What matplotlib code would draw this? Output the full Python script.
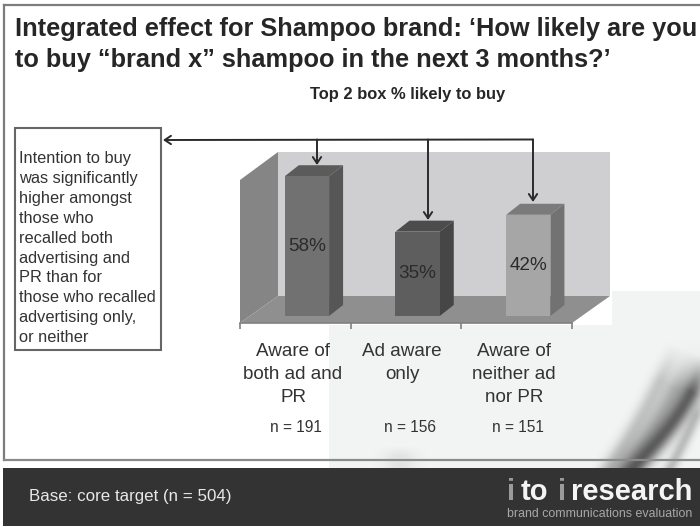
import matplotlib
matplotlib.use("Agg")
import matplotlib.pyplot as plt
import numpy as np
from matplotlib.patches import Polygon, Rectangle

# ---- data ----
categories = ["Aware of\nboth ad and\nPR", "Ad aware\nonly", "Aware of\nneither ad\nnor PR"]
top2_box = [58, 35, 42]
sample_sizes = [191, 156, 151]
title_text = "Integrated effect for Shampoo brand: \u2018How likely are you\nto buy \u201cbrand x\u201d shampoo in the next 3 months?\u2019"
subtitle_text = "Top 2 box % likely to buy"
callout_text = ("Intention to buy\nwas significantly\nhigher amongst\nthose who\nrecalled both\n"
                "advertising and\nPR than for\nthose who recalled\nadvertising only,\nor neither")
base_text = "Base: core target (n = 504)"

# ---- styling ----
front_colors = ["#717171", "#5e5e5e", "#a6a6a7"]
side_colors = ["#565656", "#464646", "#727272"]
top_colors = ["#5b5b5b", "#4c4c4c", "#7b7b7b"]
FONT = "Liberation Sans"
INK = "#262626"
W, H = 700, 527

plt.rcParams["font.family"] = FONT
fig = plt.figure(figsize=(W / 100, H / 100), dpi=100, facecolor="white")


def pixel_axes(z):
    """Full-figure axes addressed in image pixels, y pointing down."""
    a = fig.add_axes([0, 0, 1, 1], zorder=z)
    a.set_xlim(0, W)
    a.set_ylim(H, 0)
    a.axis("off")
    a.patch.set_alpha(0)
    return a


bg = pixel_axes(0)
fg = pixel_axes(2)

# Pale slide panel behind the lower right of the chart
bg.add_patch(Polygon([(329, 325), (612, 325), (612, 291), (700, 291), (700, 468), (329, 468)],
                     closed=True, fc="#f2f4f3", ec="none"))

# Soft brush strokes in the corner: each is a Bezier centre line with a Gaussian cross-section
yy, xx = np.mgrid[340:468, 340:700]
xx = xx + 0.5
yy = yy + 0.5
shade = np.zeros_like(xx, dtype=float)


def brush(p0, c1, c2, p1, sigma, strength):
    global shade
    t = np.linspace(0, 1, 160)[:, None]
    pts = ((1 - t) ** 3) * np.array(p0) + 3 * ((1 - t) ** 2) * t * np.array(c1) \
        + 3 * (1 - t) * t ** 2 * np.array(c2) + t ** 3 * np.array(p1)
    d2 = (xx[..., None] - pts[:, 0]) ** 2 + (yy[..., None] - pts[:, 1]) ** 2
    nearest = d2.argmin(axis=-1)
    dist2 = d2.min(axis=-1)
    fade = np.clip((160 - nearest) / 35, 0, 1)
    shade = 1 - (1 - shade) * (1 - strength * np.exp(-dist2 / sigma ** 2) * fade)


brush((606, 472), (628, 440), (650, 405), (676, 345), 8, 0.22)
brush((620, 472), (642, 445), (664, 420), (694, 352), 13, 0.38)
brush((630, 472), (655, 442), (685, 418), (706, 358), 10, 0.80)
brush((668, 472), (680, 450), (690, 430), (706, 395), 6, 0.30)
brush((400, 480), (400, 472), (400, 462), (400, 446), 16, 0.09)

rgba = np.zeros(shade.shape + (4,))
rgba[..., :3] = 0.25
rgba[..., 3] = shade
bg.imshow(rgba, extent=(340, 700, 468, 340), aspect="auto", interpolation="bilinear", zorder=1)
bg.set_xlim(0, W)
bg.set_ylim(H, 0)

# Slide frame and footer band
bg.plot([4, 4], [5, 460], color="#7d7d7d", lw=1.6, zorder=2)
bg.plot([4, 700], [5, 5], color="#7d7d7d", lw=1.6, zorder=2)
bg.plot([4, 700], [460, 460], color="#8a8a8a", lw=1.6, zorder=2)
bg.add_patch(Rectangle((3, 468), 697, 58, fc="#333333", ec="none", zorder=2))

# 3D chart room: back wall, side wall, floor
bg.add_patch(Polygon([(278, 152), (610, 152), (610, 296), (278, 296)], closed=True, fc="#cfcfd1", ec="none", zorder=2))
bg.add_patch(Polygon([(240, 180), (278, 152), (278, 296), (240, 323)], closed=True, fc="#858585", ec="none", zorder=2))
bg.add_patch(Polygon([(240, 323), (278, 296), (610, 296), (572, 323)], closed=True, fc="#8f8f8f", ec="none", zorder=2))

# Value axes: one category per unit, 2.41 px per percentage point, zero 7 px above the baseline
PX_PER_UNIT = 2.41
AX_LEFT, AX_RIGHT, AX_BOTTOM, AX_TOP = 240, 572, 323, 130
ax = fig.add_axes([AX_LEFT / W, 1 - AX_BOTTOM / H, (AX_RIGHT - AX_LEFT) / W, (AX_BOTTOM - AX_TOP) / H], zorder=1)
ax.patch.set_alpha(0)
ax.set_xlim(0, 3)
ax.set_ylim(-(AX_BOTTOM - 316) / PX_PER_UNIT, (316 - AX_TOP) / PX_PER_UNIT)
for s in ["top", "left", "right"]:
    ax.spines[s].set_visible(False)
ax.spines["bottom"].set_color("#808080")
ax.spines["bottom"].set_linewidth(1.2)
ax.set_yticks([])
ax.set_xticks([0, 1, 2, 3])
ax.set_xticklabels([])
ax.tick_params(axis="x", length=4, width=1.2, color="#808080")

centers = [i + 0.605 for i in range(len(top2_box))]
bar_w = 0.40
depth_x = 14 / ((AX_RIGHT - AX_LEFT) / 3)
depth_y = 11 / PX_PER_UNIT
ax.bar(centers, top2_box, width=bar_w, color=front_colors, zorder=3)
for xc, v, sc, tc in zip(centers, top2_box, side_colors, top_colors):
    r = xc + bar_w / 2
    l = xc - bar_w / 2
    ax.add_patch(Polygon([(r, 0), (r + depth_x, depth_y), (r + depth_x, v + depth_y), (r, v)],
                         closed=True, fc=sc, ec="none", zorder=2))
    ax.add_patch(Polygon([(l, v), (l + depth_x, v + depth_y), (r + depth_x, v + depth_y), (r, v)],
                         closed=True, fc=tc, ec="none", zorder=2))
    ax.text(xc, v / 2, f"{v}%", ha="center", va="center", fontsize=13.6, color="#2b2b2b", zorder=4)

# Titles
fg.text(15, 36, title_text.split("\n")[0], fontsize=18.3, fontweight="bold", color=INK, va="baseline")
fg.text(15, 67, title_text.split("\n")[1], fontsize=18.3, fontweight="bold", color=INK, va="baseline")
fg.text(408, 94, subtitle_text, fontsize=11.9, fontweight="bold", color=INK, ha="center", va="center")

# Callout box
fg.add_patch(Rectangle((14.5, 128), 146, 222, fc="white", ec="#666666", lw=1.5))
for i, line in enumerate(callout_text.split("\n")):
    fg.text(19, 163 + i * 19.9, line, fontsize=11.8, color="#333333", va="baseline")

# Connector arrows from the bars to the callout
ARROW = dict(arrowstyle="->,head_length=0.45,head_width=0.3", lw=1.4, color="#2a2a2a", shrinkA=0, shrinkB=0)
fg.annotate("", xy=(163, 140), xytext=(533, 139.5), arrowprops=ARROW)
for x, y in [(317, 165), (428, 220), (533, 202)]:
    fg.annotate("", xy=(x, y), xytext=(x, 139.5), arrowprops=ARROW)

# Category and base-size labels
label_x = [293, 402, 514]
n_x = [296, 410, 518]
for x, cat in zip(label_x, categories):
    for j, line in enumerate(cat.split("\n")):
        fg.text(x, 352 + j * 22.5, line, fontsize=13.6, color="#333333", ha="center", va="center")
for x, n in zip(n_x, sample_sizes):
    fg.text(x, 427, f"n = {n}", fontsize=11.2, color="#333333", ha="center", va="center")

# Footer text and wordmark
fg.text(29, 497, base_text, fontsize=12.2, color="#e8e8e8", va="center")
for part, x, col in [("i", 507, "#9a9a9a"), ("to", 521, "#f4f4f4"), ("i", 558, "#9a9a9a"), ("research", 571, "#f4f4f4")]:
    fg.text(x, 500, part, fontsize=21, fontweight="bold", color=col, va="baseline")
fg.text(507, 514, "brand communications evaluation", fontsize=8.9, color="#a8a8a8", va="center")

fig.savefig("out.png", dpi=100, facecolor="white")
